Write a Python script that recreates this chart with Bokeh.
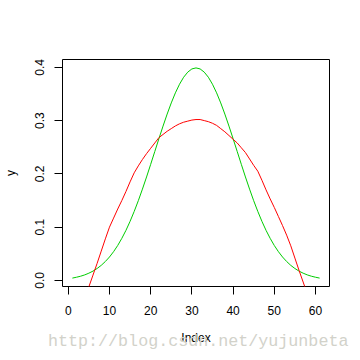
from bokeh.plotting import figure
from bokeh.models import Range1d, FixedTicker, Div
from bokeh.layouts import column
from bokeh.embed import file_html
from bokeh.resources import INLINE

# Green series (index 1..61)
green_index = list(range(1, 62))
green_y = [0.0044, 0.0060, 0.0079, 0.0104, 0.0136, 0.0175, 0.0224, 0.0283, 0.0355, 0.0440,
           0.0540, 0.0656, 0.0790, 0.0940, 0.1109, 0.1295, 0.1497, 0.1714, 0.1942, 0.2179,
           0.2420, 0.2661, 0.2897, 0.3123, 0.3332, 0.3521, 0.3683, 0.3814, 0.3910, 0.3970,
           0.3989,
           0.3970, 0.3910, 0.3814, 0.3683, 0.3521, 0.3332, 0.3123, 0.2897, 0.2661, 0.2420,
           0.2179, 0.1942, 0.1714, 0.1497, 0.1295, 0.1109, 0.0940, 0.0790, 0.0656, 0.0540,
           0.0440, 0.0355, 0.0283, 0.0224, 0.0175, 0.0136, 0.0104, 0.0079, 0.0060, 0.0044]

# Red series (index 4..58)
red_index = list(range(4, 59))
red_y = [-0.034, -0.012, 0.010, 0.032, 0.055, 0.078, 0.100, 0.117, 0.134, 0.150,
         0.167, 0.185, 0.202, 0.215, 0.227, 0.238, 0.248, 0.258, 0.268, 0.274,
         0.280, 0.285, 0.290, 0.294, 0.297, 0.299, 0.301, 0.302, 0.302, 0.300,
         0.298, 0.295, 0.291, 0.285, 0.279, 0.272, 0.265, 0.258, 0.249, 0.240,
         0.228, 0.216, 0.205, 0.188, 0.170, 0.153, 0.137, 0.120, 0.103, 0.085,
         0.065, 0.042, 0.019, -0.003, -0.025]

x_ticks = [0, 10, 20, 30, 40, 50, 60]
y_ticks = [0.0, 0.1, 0.2, 0.3, 0.4]
y_tick_labels = ["0.0", "0.1", "0.2", "0.3", "0.4"]
watermark = "http://blog.csdn.net/yujunbeta"

FONT = "Liberation Sans"

p = figure(width=360, height=360, output_backend="svg", toolbar_location=None,
           x_range=Range1d(-1.4, 63.4), y_range=Range1d(-0.0114, 0.4147),
           min_border_left=59, min_border_right=31, min_border_top=59, min_border_bottom=74)
p.background_fill_color = "white"
p.border_fill_color = "white"
p.outline_line_color = "black"
p.outline_line_width = 1
p.grid.visible = False

p.line(green_index, green_y, line_color="#00CD00", line_width=1)
p.line(red_index, red_y, line_color="#FF0000", line_width=1)

for ax in (p.xaxis[0], p.yaxis[0]):
    ax.axis_line_color = None
    ax.major_tick_line_color = "black"
    ax.major_tick_out = 8
    ax.major_tick_in = 0
    ax.minor_tick_line_color = None
    ax.major_label_text_font = FONT
    ax.major_label_text_font_size = "12px"
    ax.major_label_text_color = "black"
    ax.axis_label_text_font = FONT
    ax.axis_label_text_font_size = "12px"
    ax.axis_label_text_font_style = "normal"
    ax.axis_label_text_color = "black"

p.xaxis.ticker = FixedTicker(ticks=x_ticks)
p.yaxis.ticker = FixedTicker(ticks=y_ticks)
p.yaxis.major_label_overrides = {t: s for t, s in zip(y_ticks, y_tick_labels)}
p.yaxis.major_label_orientation = "vertical"
p.xaxis.major_label_standoff = 11
p.yaxis.major_label_standoff = 10
p.xaxis.axis_label = "Index"
p.yaxis.axis_label = "y"
p.xaxis.axis_label_standoff = 13
p.yaxis.axis_label_standoff = 15

wm = Div(text=watermark, width=310, height=17,
         styles={"position": "absolute", "left": "48px", "top": "334px",
                 "font-family": "Liberation Mono", "font-size": "16.7px",
                 "line-height": "1", "color": "#d2d2ca", "white-space": "nowrap",
                 "pointer-events": "none", "margin": "0", "padding": "0"})

layout = column(p, wm)

open("out.html", "w").write(file_html(layout, INLINE))
